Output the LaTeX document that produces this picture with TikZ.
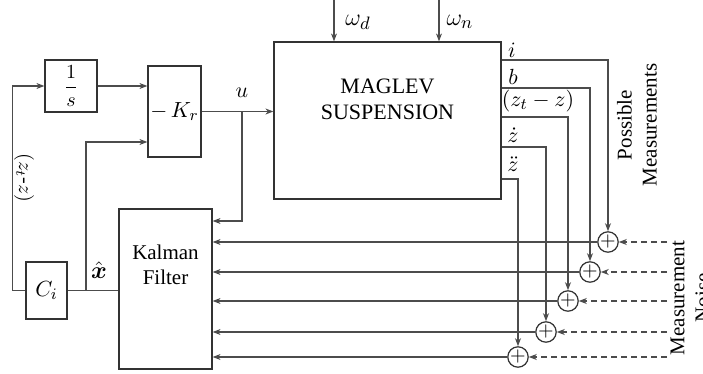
\documentclass[tikz,border=0pt]{standalone}
\usepackage{amsmath}
\usepackage{fontspec}
\setmainfont{Liberation Serif}
\usetikzlibrary{arrows.meta}
\begin{document}
\begin{tikzpicture}[x=0.5pt,y=-0.5pt,
  blk/.style={draw=black!80, line width=0.6pt, inner sep=0pt},
  sumj/.style={draw=black!80, circle, minimum size=10pt, inner sep=0pt, line width=0.6pt},
  wire/.style={draw=black!70, line width=0.6pt},
  arr/.style={wire, -{Stealth[length=4pt,width=3pt]}},
  noise/.style={draw=black!70, line width=0.6pt, dash pattern=on 3pt off 2pt, -{Stealth[length=4pt,width=3pt]}},
  lbl/.style={inner sep=0pt, font=\fontsize{11}{13}\selectfont},
  txt/.style={inner sep=0pt, align=center, font=\fontsize{10.5}{12.5}\selectfont}
]
\useasboundingbox (0,0) rectangle (703,374);
\clip (0,0) rectangle (703,374);

% blocks
\node[blk, minimum width=26pt, minimum height=26pt] (integ) at (71,86) {$\displaystyle\frac{1}{s}$};
\node[blk, minimum width=26.5pt, minimum height=45.5pt, font=\fontsize{11}{13}\selectfont] (kr) at (174.5,111.5) {$-\,K_r$};
\node[blk, minimum width=113.5pt, minimum height=78.5pt] (plant) at (387.5,120.5) {};
\node[txt, font=\fontsize{11}{13}\selectfont] (plabel) at (387.5,99) {MAGLEV\\SUSPENSION};
\node[blk, minimum width=46.5pt, minimum height=80pt] (kf) at (165.5,289) {};
\node[txt] (kflabel) at (165.5,264.5) {Kalman\\Filter};
\node[blk, minimum width=20.5pt, minimum height=28.5pt, font=\fontsize{11}{13}\selectfont] (ci) at (46.5,290.5) {$C_i$};

% summing junctions
\node[sumj] (s1) at (608,242) {$+$};
\node[sumj] (s2) at (590,272) {$+$};
\node[sumj] (s3) at (568,301) {$+$};
\node[sumj] (s4) at (546,332) {$+$};
\node[sumj] (s5) at (518,357) {$+$};

% forward path
\draw[arr] (integ.east) -- (integ.east -| kr.west);
\draw[arr] (kr.east) -- (kr.east -| plant.west);
\coordinate (j1) at (242,111.5);
\draw[arr] (j1) |- (kf.east |- 0,221);

% disturbances
\coordinate (wd) at (334,0);
\coordinate (wn) at (439,0);
\draw[arr] (wd) -- (wd |- plant.north);
\draw[arr] (wn) -- (wn |- plant.north);

% plant outputs
\draw[arr] (plant.east |- 0,60) -| (s1.north);
\draw[arr] (plant.east |- 0,88) -| (s2.north);
\draw[arr] (plant.east |- 0,117) -| (s3.north);
\draw[arr] (plant.east |- 0,147) -| (s4.north);
\draw[arr] (plant.east |- 0,179) -| (s5.north);

% sums to Kalman filter
\foreach \s in {s1,s2,s3,s4,s5}{
  \draw[arr] (\s.west) -- (\s.west -| kf.east);
}

% measurement noise
\foreach \s in {s1,s2,s3,s4,s5}{
  \coordinate (n\s) at (667,0 |- \s);
  \draw[noise] (n\s) -- (\s.east);
}

% Kalman output / feedback
\draw[wire] (kf.west |- ci.east) -- (ci.east);
\coordinate (j2) at (86,290.5);
\draw[arr] (j2) |- (kr.west |- 0,142);
\draw[arr] (ci.west) -- ++(-13,0) |- (integ.west);

% labels
\node[lbl] (lu) at (242,93) {$u$};
\node[lbl, font=\fontsize{13}{15}\selectfont] (lwd) at (358,22) {$\omega_d$};
\node[lbl, font=\fontsize{13}{15}\selectfont] (lwn) at (460,22) {$\omega_n$};
\node[lbl] (li) at (512,50) {$i$};
\node[lbl] (lb) at (513,77) {$b$};
\node[lbl] (lz) at (538,101) {$(z_t-z)$};
\node[lbl] (lzd) at (513,135) {$\dot z$};
\node[lbl] (lzdd) at (513,164) {$\ddot z$};
\node[lbl, font=\fontsize{13}{15}\selectfont] (lx) at (99,270) {$\hat{\boldsymbol{x}}$};
\node[lbl, rotate=-90, font=\fontsize{10}{12}\selectfont] (lzt) at (24,178) {$(z_t$-$z)$};
\node[txt, rotate=90, font=\fontsize{10.5}{12.5}\selectfont] (lpm) at (637,125) {Possible\\Measurements};
\node[txt, rotate=90, font=\fontsize{10.5}{12.5}\selectfont] (lmn) at (690,298) {Measurement\\Noise};
\end{tikzpicture}
\end{document}
